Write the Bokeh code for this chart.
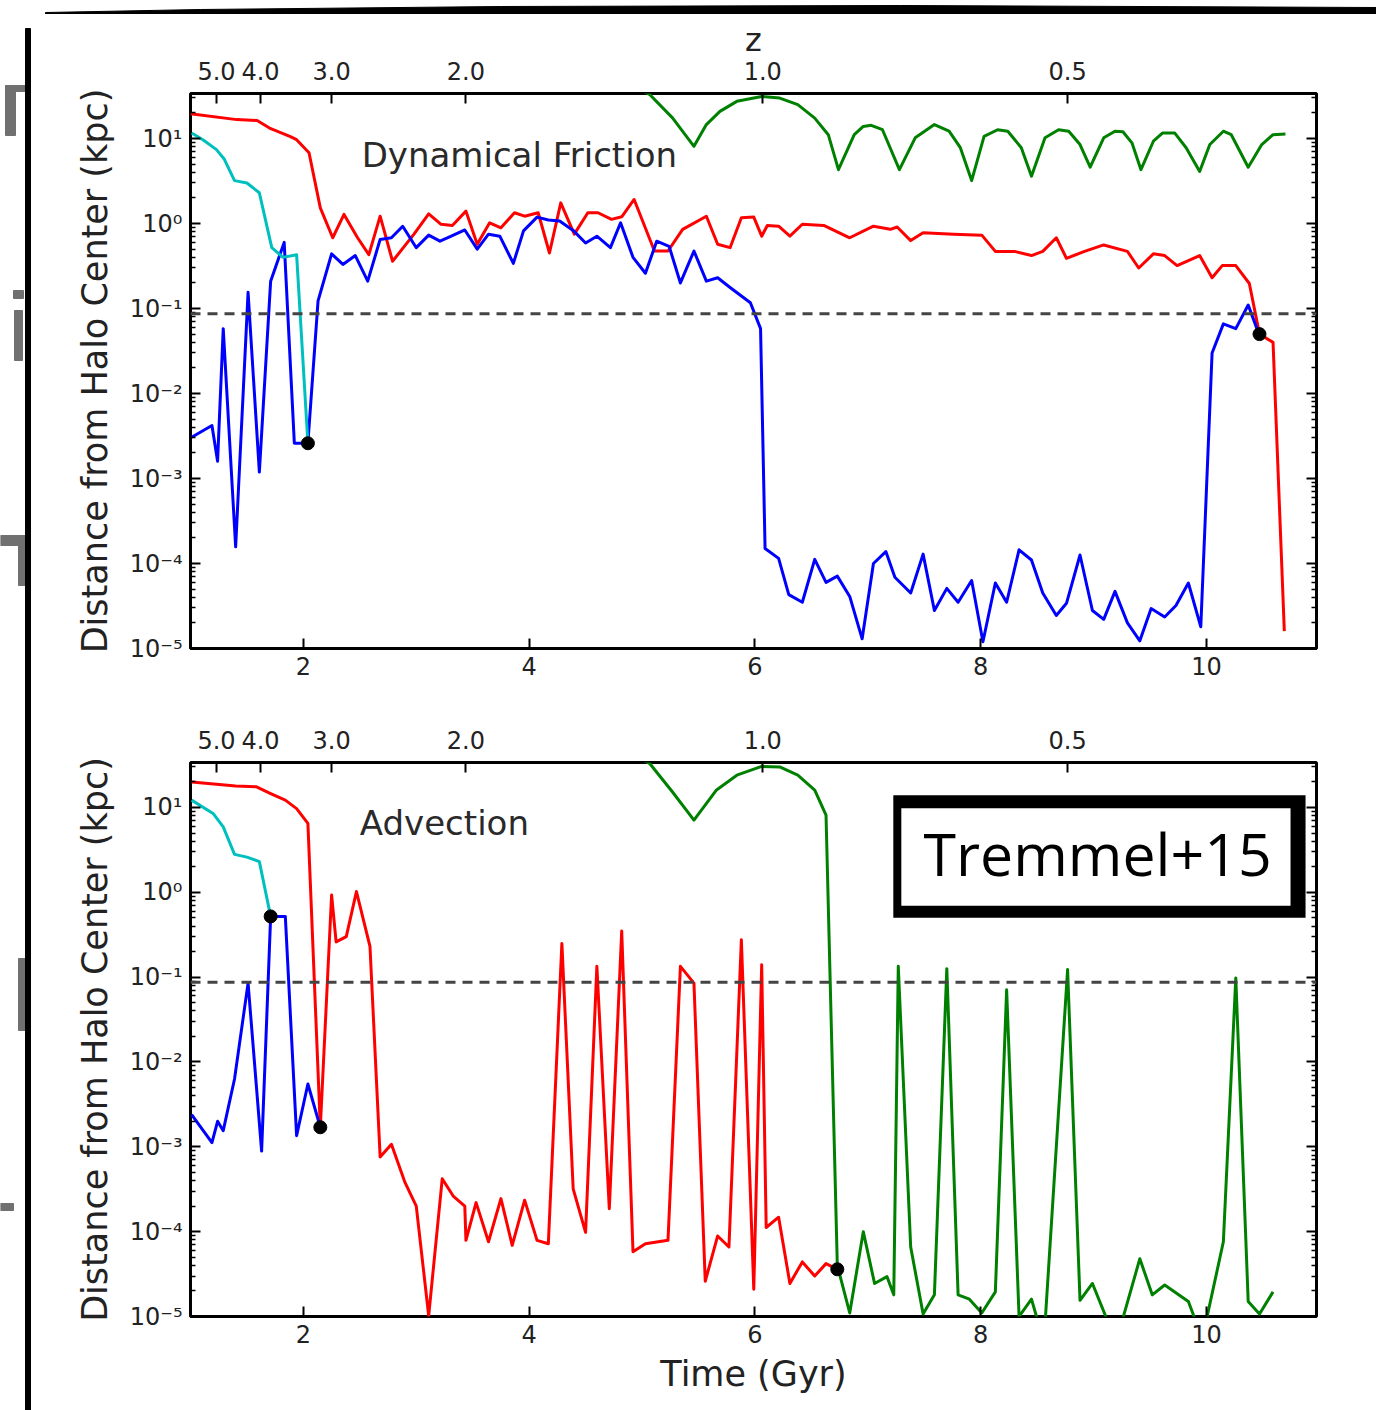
from bokeh.plotting import figure
from bokeh.models import (Range1d, LogAxis, LinearAxis, FixedTicker, CustomJSTickFormatter,
                          Span, Label, BoxAnnotation)
from bokeh.layouts import column, row
from bokeh.embed import file_html
from bokeh.resources import INLINE

# ---------------- data (time in Gyr, distance in kpc) ----------------
z_labels = ["5.0", "4.0", "3.0", "2.0", "1.0", "0.5"]
z_times = [1.23, 1.62, 2.25, 3.44, 6.07, 8.77]
x_ticks = [2, 4, 6, 8, 10]
softening = 0.087

# Dynamical Friction panel
df_red_t = [1.00, 1.41, 1.59, 1.70, 1.88, 1.94, 2.05, 2.15, 2.26, 2.36, 2.48, 2.58, 2.68, 2.79, 2.98,
            3.11, 3.22, 3.32, 3.44, 3.54, 3.65, 3.75, 3.87, 3.96, 4.08, 4.18, 4.28, 4.40, 4.52, 4.61,
            4.73, 4.82, 4.93, 5.11, 5.23, 5.36, 5.57, 5.67, 5.78, 5.88, 5.99, 6.06, 6.11, 6.21, 6.31,
            6.42, 6.61, 6.84, 7.05, 7.20, 7.26, 7.38, 7.49, 7.76, 8.01, 8.13, 8.30, 8.45, 8.55, 8.67,
            8.76, 8.92, 9.09, 9.30, 9.40, 9.53, 9.63, 9.74, 9.94, 10.05, 10.14, 10.26, 10.38, 10.47,
            10.59, 10.69]
df_red_d = [19.6, 16.7, 16.3, 13.3, 10.6, 9.7, 6.8, 1.53, 0.68, 1.28, 0.68, 0.43, 1.22, 0.36, 0.75,
            1.30, 0.98, 0.95, 1.40, 0.57, 1.02, 0.89, 1.34, 1.22, 1.34, 0.45, 1.75, 0.75, 1.34, 1.34,
            1.12, 1.20, 1.92, 0.475, 0.475, 0.855, 1.22, 0.57, 0.52, 1.17, 1.19, 0.71, 0.95, 0.93, 0.71,
            0.98, 0.95, 0.68, 0.93, 0.855, 0.91, 0.63, 0.78, 0.75, 0.73, 0.47, 0.47, 0.42, 0.47, 0.68,
            0.39, 0.47, 0.56, 0.47, 0.30, 0.44, 0.42, 0.32, 0.42, 0.23, 0.32, 0.32, 0.197, 0.050,
            0.040, 1.6e-5]

df_blue_t = [1.01, 1.19, 1.24, 1.29, 1.40, 1.51, 1.61, 1.71, 1.83, 1.92, 2.04, 2.13, 2.25, 2.35, 2.46,
             2.57, 2.68, 2.78, 2.88, 3.00, 3.11, 3.21, 3.31, 3.43, 3.54, 3.64, 3.74, 3.86, 3.95, 4.07,
             4.17, 4.27, 4.39, 4.50, 4.60, 4.72, 4.81, 4.92, 5.03, 5.13, 5.24, 5.34, 5.46, 5.57, 5.67,
             5.78, 5.96, 6.05, 6.09, 6.21, 6.30, 6.42, 6.53, 6.63, 6.73, 6.84, 6.95, 7.05, 7.16, 7.24,
             7.38, 7.49, 7.59, 7.70, 7.80, 7.92, 8.02, 8.13, 8.23, 8.34, 8.45, 8.55, 8.67, 8.76, 8.88,
             8.99, 9.09, 9.19, 9.30, 9.41, 9.51, 9.63, 9.73, 9.84, 9.95, 10.05, 10.15, 10.26, 10.37,
             10.47]
df_blue_d = [3.06e-3, 4.2e-3, 1.6e-3, 0.058, 1.57e-4, 0.155, 1.19e-3, 0.21, 0.60, 2.6e-3, 2.6e-3,
             0.123, 0.44, 0.33, 0.42, 0.21, 0.65, 0.68, 0.93, 0.52, 0.73, 0.62, 0.71, 0.84, 0.50, 0.75,
             0.71, 0.34, 0.82, 1.19, 1.10, 1.07, 0.83, 0.59, 0.71, 0.52, 1.02, 0.40, 0.26, 0.62, 0.54,
             0.20, 0.475, 0.21, 0.23, 0.177, 0.117, 0.058, 1.5e-4, 1.15e-4, 4.3e-5, 3.5e-5, 1.12e-4,
             6.0e-5, 7.1e-5, 4.1e-5, 1.3e-5, 1.0e-4, 1.38e-4, 6.9e-5, 4.5e-5, 1.29e-4, 2.8e-5, 5.1e-5,
             3.5e-5, 6.3e-5, 1.2e-5, 5.9e-5, 3.5e-5, 1.45e-4, 1.1e-4, 4.5e-5, 2.45e-5, 3.4e-5, 1.26e-4,
             2.8e-5, 2.2e-5, 4.7e-5, 2.0e-5, 1.23e-5, 2.95e-5, 2.35e-5, 3.2e-5, 5.9e-5, 1.8e-5, 0.030,
             0.066, 0.058, 0.110, 0.048]

df_cyan_t = [1.01, 1.11, 1.23, 1.30, 1.39, 1.50, 1.61, 1.72, 1.82, 1.94, 2.04]
df_cyan_d = [11.6, 9.7, 7.4, 5.7, 3.2, 3.0, 2.3, 0.52, 0.40, 0.43, 2.6e-3]

df_green_t = [4.98, 5.07, 5.27, 5.46, 5.57, 5.69, 5.84, 6.06, 6.22, 6.38, 6.53, 6.65, 6.74, 6.88, 6.96,
              7.03, 7.13, 7.28, 7.42, 7.59, 7.72, 7.82, 7.92, 8.03, 8.15, 8.24, 8.36, 8.45, 8.57, 8.69,
              8.78, 8.88, 8.97, 9.09, 9.19, 9.26, 9.34, 9.42, 9.53, 9.61, 9.72, 9.82, 9.94, 10.03, 10.15,
              10.22, 10.37, 10.49, 10.59, 10.70]
df_green_d = [38.0, 32.8, 17.5, 8.1, 14.6, 20.9, 27.4, 31.3, 29.9, 25.1, 17.4, 11.1, 4.3, 11.1, 13.9,
              14.3, 12.7, 4.3, 10.2, 14.6, 12.2, 7.8, 3.2, 10.6, 12.7, 12.2, 7.8, 3.6, 10.2, 12.7,
              12.2, 8.5, 4.6, 10.2, 12.2, 12.0, 8.9, 4.3, 9.3, 11.6, 11.6, 7.8, 4.1, 8.5, 12.2,
              11.1, 4.6, 8.5, 11.1, 11.3]

df_dots_t = [2.04, 10.47]
df_dots_d = [2.6e-3, 0.050]

# Advection panel
ad_red_t = [1.01, 1.40, 1.585, 1.71, 1.84, 1.94, 2.04, 2.15, 2.25, 2.29, 2.38, 2.47, 2.59, 2.68, 2.78,
            2.90, 3.00, 3.11, 3.23, 3.33, 3.43, 3.44, 3.53, 3.64, 3.75, 3.85, 3.96, 4.07, 4.17, 4.29,
            4.39, 4.50, 4.60, 4.71, 4.82, 4.92, 5.03, 5.23, 5.34, 5.46, 5.56, 5.67, 5.77, 5.88, 5.99,
            6.06, 6.10, 6.21, 6.31, 6.42, 6.53, 6.63, 6.73]
ad_red_d = [20.0, 17.9, 17.5, 14.6, 12.2, 9.7, 6.5, 1.7e-3, 0.93, 0.26, 0.30, 1.02, 0.23, 7.6e-4,
            1.07e-3, 3.8e-4, 2.0e-4, 1.02e-5, 4.2e-4, 2.6e-4, 2.0e-4, 7.9e-5, 2.2e-4, 7.6e-5, 2.45e-4,
            6.9e-5, 2.35e-4, 7.9e-5, 7.2e-5, 0.25, 3.2e-4, 9.8e-5, 0.134, 1.86e-4, 0.35, 5.8e-5,
            7.2e-5, 7.9e-5, 0.134, 0.085, 2.6e-5, 8.9e-5, 6.6e-5, 0.275, 2.1e-5, 0.14, 1.12e-4,
            1.48e-4, 2.45e-5, 4.4e-5, 3.0e-5, 4.2e-5, 3.6e-5]

ad_blue_t = [1.01, 1.19, 1.24, 1.29, 1.39, 1.51, 1.63, 1.71, 1.84, 1.94, 2.04, 2.15]
ad_blue_d = [2.4e-3, 1.12e-3, 2.0e-3, 1.55e-3, 6.3e-3, 0.085, 8.9e-4, 0.52, 0.52, 1.35e-3, 5.5e-3,
             1.7e-3]

ad_cyan_t = [1.01, 1.20, 1.29, 1.39, 1.50, 1.61, 1.71]
ad_cyan_d = [12.2, 8.5, 5.9, 2.8, 2.6, 2.3, 0.52]

ad_green_t = [4.98, 5.07, 5.27, 5.46, 5.66, 5.84, 6.06, 6.22, 6.38, 6.53, 6.63, 6.73, 6.84, 6.96, 7.06,
              7.17, 7.23, 7.27, 7.38, 7.49, 7.59, 7.70, 7.80, 7.90, 8.01, 8.13, 8.23, 8.34, 8.45, 8.56,
              8.77, 8.88, 8.99, 9.20, 9.41, 9.52, 9.63, 9.84, 9.89, 9.97, 10.15, 10.26, 10.37, 10.47,
              10.59]
ad_green_d = [38.0, 32.8, 15.2, 7.1, 16.1, 24.0, 30.5, 30.0, 24.0, 16.0, 8.1, 4.0e-5, 1.1e-5, 1.0e-4,
              2.45e-5, 2.95e-5, 1.8e-5, 0.134, 6.6e-5, 1.07e-5, 1.8e-5, 0.126, 1.8e-5, 1.6e-5, 1.1e-5,
              1.95e-5, 0.071, 1.0e-5, 1.6e-5, 5e-6, 0.123, 1.55e-5, 2.45e-5, 5e-6, 4.8e-5, 1.8e-5,
              2.35e-5, 1.5e-5, 1.0e-5, 6e-6, 7.6e-5, 0.098, 1.5e-5, 1.07e-5, 1.95e-5]

ad_dots_t = [1.71, 2.15, 6.73]
ad_dots_d = [0.52, 1.7e-3, 3.6e-5]

# ---------------- styling helpers ----------------
FONT = "DejaVu Sans"
RED, BLUE, CYAN, GREEN = "#ff0000", "#0000ff", "#00bfbf", "#008000"
LW = 3
major_y = [10.0 ** e for e in range(-5, 2)]
minor_y = [m * 10.0 ** e for e in range(-6, 2) for m in range(2, 10)]

SUP_JS = """
const sup = {"-": "\u207b", "0": "\u2070", "1": "\u00b9", "2": "\u00b2", "3": "\u00b3",
             "4": "\u2074", "5": "\u2075", "6": "\u2076", "7": "\u2077", "8": "\u2078", "9": "\u2079"};
const e = Math.round(Math.log10(tick));
return "10" + String(e).split("").map(c => sup[c]).join("");
"""
Z_JS = """
const i = zt.findIndex(v => Math.abs(v - tick) < 1e-6);
return i >= 0 ? zl[i] : "";
"""
BLANK_JS = "return '';"


def style_axis(ax, label_size="24px"):
    ax.axis_line_color = None
    ax.major_tick_in = 10
    ax.major_tick_out = 0
    ax.minor_tick_in = 5
    ax.minor_tick_out = 0
    ax.major_tick_line_color = "black"
    ax.major_tick_line_width = 2
    ax.minor_tick_line_color = "black"
    ax.minor_tick_line_width = 1.5
    ax.major_label_text_font = FONT
    ax.major_label_text_font_size = label_size
    ax.major_label_text_color = "#222222"
    ax.axis_label_text_font = FONT
    ax.axis_label_text_font_size = "35px"
    ax.axis_label_text_font_style = "normal"
    ax.axis_label_text_color = "#222222"
    ax.major_label_standoff = 8


def make_fig(width, height, border_left, border_top, border_bottom, xlabel, zlabel):
    p = figure(width=width, height=height, x_range=Range1d(1.0, 10.975),
               y_range=Range1d(1e-5, 10 ** 1.53), y_axis_type="log",
               output_backend="svg", toolbar_location=None,
               min_border_left=border_left, min_border_right=60,
               min_border_top=border_top, min_border_bottom=border_bottom)
    p.grid.visible = False
    p.outline_line_color = "black"
    p.outline_line_width = 3
    p.background_fill_color = "white"
    p.border_fill_color = "white"

    ya = p.yaxis[0]
    ya.ticker = FixedTicker(ticks=major_y, minor_ticks=minor_y)
    ya.formatter = CustomJSTickFormatter(code=SUP_JS)
    style_axis(ya)
    ya.axis_label = "Distance from Halo Center (kpc)"
    ya.axis_label_standoff = 12

    xa = p.xaxis[0]
    xa.ticker = FixedTicker(ticks=x_ticks)
    style_axis(xa)
    xa.minor_tick_line_color = None
    if xlabel:
        xa.axis_label = xlabel
        xa.axis_label_standoff = 8

    ra = LogAxis(ticker=FixedTicker(ticks=major_y, minor_ticks=minor_y),
                 formatter=CustomJSTickFormatter(code=BLANK_JS))
    style_axis(ra)
    ra.major_label_standoff = 0
    p.add_layout(ra, "right")

    za = LinearAxis(ticker=FixedTicker(ticks=z_times),
                    formatter=CustomJSTickFormatter(args=dict(zt=z_times, zl=z_labels), code=Z_JS))
    style_axis(za)
    za.minor_tick_line_color = None
    za.major_label_standoff = 14
    if zlabel:
        za.axis_label = zlabel
        za.axis_label_text_font_size = "32px"
        za.axis_label_standoff = 0
    p.add_layout(za, "above")

    p.add_layout(Span(location=softening, dimension="width", line_color="#444444",
                      line_width=3, line_dash="10 7"))
    return p


STRIP_H = 14

# ---------------- top panel ----------------
p1 = make_fig(1342, 705 - STRIP_H, 156, 93 - STRIP_H, 57, None, "z")
p1.line(df_green_t, df_green_d, line_color=GREEN, line_width=LW, line_join="round")
p1.line(df_red_t, df_red_d, line_color=RED, line_width=LW, line_join="round")
p1.line(df_blue_t, df_blue_d, line_color=BLUE, line_width=LW, line_join="round")
p1.line(df_cyan_t, df_cyan_d, line_color=CYAN, line_width=LW, line_join="round")
p1.scatter(df_dots_t, df_dots_d, size=13, color="black")
p1.add_layout(Label(x=2.516, y=6.43, text="Dynamical Friction", text_font=FONT,
                    text_font_size="34px", text_color="#2a2a2a", text_baseline="alphabetic"))

# ---------------- bottom panel ----------------
p2 = make_fig(1342, 705, 156, 57, 94, "Time (Gyr)", None)
p2.line(ad_green_t, ad_green_d, line_color=GREEN, line_width=LW, line_join="round")
p2.line(ad_red_t, ad_red_d, line_color=RED, line_width=LW, line_join="round")
p2.line(ad_blue_t, ad_blue_d, line_color=BLUE, line_width=LW, line_join="round")
p2.line(ad_cyan_t, ad_cyan_d, line_color=CYAN, line_width=LW, line_join="round")
p2.scatter(ad_dots_t, ad_dots_d, size=13, color="black")
p2.add_layout(Label(x=2.50, y=6.54, text="Advection", text_font=FONT,
                    text_font_size="34px", text_color="#2a2a2a", text_baseline="alphabetic"))

# Tremmel+15 stamp box (placed in the panel's own coordinates)
p2.add_layout(BoxAnnotation(left=7.226, right=10.878, top=13.95, bottom=0.5003,
                            fill_color="black", fill_alpha=1.0, line_color=None, level="overlay"))
p2.add_layout(BoxAnnotation(left=7.297, right=10.745, top=9.81, bottom=0.692,
                            fill_color="white", fill_alpha=1.0, line_color=None, level="overlay"))
p2.add_layout(Label(x=9.035, y=2.90, text="Tremmel+15", text_font="Open Sans",
                    text_font_size="59px", text_color="black", text_align="center",
                    text_baseline="alphabetic", level="overlay"))

# ---------------- slide decorations (strips around the chart) ----------------
top_strip = figure(width=1376, height=STRIP_H, x_range=Range1d(0, 1376), y_range=Range1d(STRIP_H, 0),
                   output_backend="svg", toolbar_location=None, min_border=0,
                   x_axis_type=None, y_axis_type=None)
top_strip.outline_line_color = None
top_strip.grid.visible = False
top_strip.patch([45, 200, 500, 900, 1376, 1376, 900, 500, 250, 45],
                [12, 9, 6, 5, 7, 20, 19, 18, 15, 14], color="black")

left_strip = figure(width=34, height=1410 - STRIP_H, x_range=Range1d(0, 34),
                    y_range=Range1d(1410, STRIP_H),
                    output_backend="svg", toolbar_location=None, min_border=0,
                    x_axis_type=None, y_axis_type=None)
left_strip.outline_line_color = None
left_strip.grid.visible = False
GREY = "#707070"
left_strip.quad(left=[5, 5, 13, 14, 0, 18, 18, 0],
                right=[15, 28, 23, 22, 25, 25, 30, 13],
                top=[85, 85, 290, 310, 535, 540, 958, 1203],
                bottom=[135, 91, 298, 360, 545, 585, 1030, 1210],
                color=GREY)
left_strip.quad(left=[25], right=[30], top=[28], bottom=[1410], color="black")

layout = column(top_strip, row(left_strip, column(p1, p2, spacing=0), spacing=0), spacing=0)
open("out.html", "w").write(file_html(layout, INLINE))
